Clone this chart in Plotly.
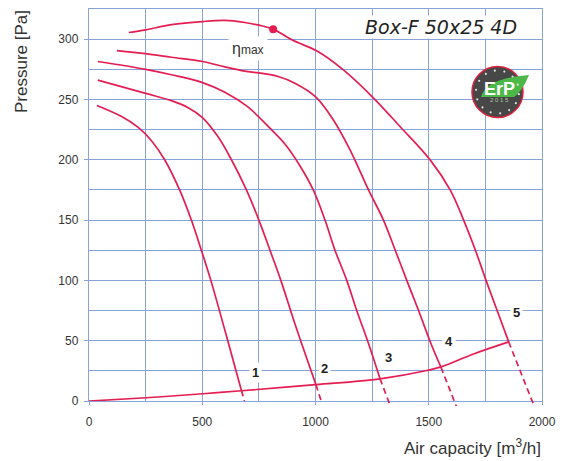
import plotly.graph_objects as go
import math

# ---------------- data ----------------
c1_x = [35, 142, 216, 275, 334, 400, 452, 496, 538, 600, 673]
c1_y = [245, 236, 227, 216, 200, 175, 150, 125, 100, 58.6, 8.7]
c1_dx = [673, 686]
c1_dy = [8.7, 0]

c2_x = [39, 250, 364, 440, 501, 570, 629, 695, 750, 799, 847, 909, 1002]
c2_y = [266, 255, 249, 243, 235, 219, 200, 175, 150, 125, 100, 64, 13.5]
c2_dx = [1002, 1027]
c2_dy = [13.5, -1]

c3_x = [39, 250, 364, 501, 600, 700, 800, 865, 931, 990, 1042, 1086, 1138, 1182, 1234, 1285]
c3_y = [281.5, 275, 270.5, 264, 256, 244, 226, 213, 195, 175, 150, 125, 100, 75, 47.7, 18.4]
c3_dx = [1285, 1330]
c3_dy = [18.4, -4]

c4_x = [123, 250, 364, 501, 600, 688, 750, 835, 909, 1002, 1079, 1153, 1234, 1300, 1352, 1403, 1455, 1510, 1554]
c4_y = [290.5, 288, 285, 281.5, 277, 273.5, 272, 269, 263.5, 252, 233, 208, 175, 150, 125, 100, 75, 47.5, 28]
c4_dx = [1554, 1623]
c4_dy = [28, -5]

c5_x = [176, 250, 364, 501, 600, 688, 750, 813, 900, 1003, 1123, 1253, 1374, 1507, 1595, 1654, 1706, 1753, 1802, 1853]
c5_y = [305.5, 307.7, 312, 314.6, 315.5, 313.8, 311.6, 308.3, 299, 290.5, 274.5, 251.8, 227.4, 199.7, 174.8, 150, 125, 100, 75, 49]
c5_dx = [1853, 1967]
c5_dy = [49, -5]

sys_x = [0, 253, 503, 673, 1001, 1285, 1492, 1558, 1698, 1853]
sys_y = [0, 2.7, 6, 8.5, 13.5, 18.4, 25.3, 28.5, 39, 49]

eta_x = [813]
eta_y = [308.3]

speed_labels = ["1", "2", "3", "4", "5"]
label_x = [736, 1039, 1321, 1590, 1887]
label_y = [24, 27, 36, 49, 73]

x_ticks = [0, 500, 1000, 1500, 2000]
y_ticks = [0, 50, 100, 150, 200, 250, 300]

# ---------------- style ----------------
RED = "#e41e52"
GRID = "#87a3d8"
FONT = "Liberation Sans, Arial"
W, H = 567, 461
ML, MR, MT, MB = 89, 25, 9, 55
PW = W - ML - MR
PH = H - MT - MB
EXT = 5  # px that dashed lines may extend below axis
y_dom0 = EXT / PH
scale_y = (PH - EXT) / 325.0


def px2paper(px, py):
    return (px - ML) / PW, (H - MB - py) / PH


fig = go.Figure()

solid = [(c1_x, c1_y), (c2_x, c2_y), (c3_x, c3_y), (c4_x, c4_y), (c5_x, c5_y)]
dashed = [(c1_dx, c1_dy), (c2_dx, c2_dy), (c3_dx, c3_dy), (c4_dx, c4_dy), (c5_dx, c5_dy)]

for xs, ys in solid:
    fig.add_trace(go.Scatter(x=xs, y=ys, mode="lines",
                             line=dict(color=RED, width=1.7, shape="spline", smoothing=1.0),
                             hoverinfo="skip", showlegend=False))
for xs, ys in dashed:
    fig.add_trace(go.Scatter(x=xs, y=ys, mode="lines", line=dict(color=RED, width=1.7, dash="6px,4px"),
                             xaxis="x2", yaxis="y2", hoverinfo="skip", showlegend=False))

fig.add_trace(go.Scatter(x=sys_x, y=sys_y, mode="lines",
                         line=dict(color=RED, width=1.7, shape="spline", smoothing=1.0),
                         hoverinfo="skip", showlegend=False))
fig.add_trace(go.Scatter(x=eta_x, y=eta_y, mode="markers", marker=dict(color=RED, size=8),
                         hoverinfo="skip", showlegend=False))

for t, lx, ly in zip(speed_labels, label_x, label_y):
    fig.add_annotation(x=lx, y=ly, xref="x", yref="y", text="<b>%s</b>" % t, showarrow=False,
                       font=dict(family=FONT, size=13, color="#222"),
                       bgcolor="white", borderpad=2, xanchor="center", yanchor="middle")

fig.add_annotation(x=703, y=292, xref="x", yref="y",
                   text="η<span style='font-size:12px'>max</span>", showarrow=False,
                   font=dict(family=FONT, size=16, color="#333"),
                   bgcolor="white", borderpad=3, xanchor="center", yanchor="middle")

# title
tx, ty = px2paper(441, 27)
fig.add_annotation(x=tx, y=ty, xref="paper", yref="paper", text="<i>Box-F 50x25 4D</i>", showarrow=False,
                   font=dict(family="DejaVu Sans", size=19, color="#222"), bgcolor="white", borderpad=0,
                   xanchor="center", yanchor="middle")

# axis titles
ax, ay = px2paper(22, 62)
fig.add_annotation(x=ax, y=ay, xref="paper", yref="paper", text="Pressure [Pa]", textangle=-90,
                   showarrow=False, font=dict(family=FONT, size=17, color="#333"),
                   xanchor="center", yanchor="middle")
bx, by = px2paper(543, 447)
fig.add_annotation(x=bx, y=by, xref="paper", yref="paper", text="Air capacity [m<sup>3</sup>/h]",
                   showarrow=False, font=dict(family=FONT, size=17, color="#333"),
                   xanchor="right", yanchor="middle")

# ErP logo
cx, cy, r = 497.5, 92, 25.5
x0, y0 = px2paper(cx - r, cy + r)
x1, y1 = px2paper(cx + r, cy - r)
fig.add_shape(type="circle", xref="paper", yref="paper", x0=x0, y0=y0, x1=x1, y1=y1,
              fillcolor="#474747", line=dict(color="#e0203a", width=1.5), layer="above")
leaf_pts = [(481, 97), (486, 78), (529, 75), (522, 92), (514, 97)]
p = [px2paper(a, b) for a, b in leaf_pts]
path = "M %f,%f Q %f,%f %f,%f Q %f,%f %f,%f L %f,%f Z" % (
    p[0][0], p[0][1], p[1][0], p[1][1], p[2][0], p[2][1], p[3][0], p[3][1], p[4][0], p[4][1], p[0][0], p[0][1])
fig.add_shape(type="path", xref="paper", yref="paper", path=path, fillcolor="#4cb848",
              line=dict(color="#4cb848", width=0), layer="above")
for k in range(14):
    a = 2 * math.pi * k / 14 + 0.1
    dx, dy = cx + 21.5 * math.cos(a), cy + 21.5 * math.sin(a)
    u0, v0 = px2paper(dx - 1.1, dy + 1.1)
    u1, v1 = px2paper(dx + 1.1, dy - 1.1)
    fig.add_shape(type="circle", xref="paper", yref="paper", x0=u0, y0=v0, x1=u1, y1=v1,
                  fillcolor="#dddddd", line=dict(width=0), layer="above")
ex, ey = px2paper(499.5, 89)
fig.add_annotation(x=ex, y=ey, xref="paper", yref="paper", text="<b>ErP</b>", showarrow=False,
                   font=dict(family=FONT, size=18, color="white"), xanchor="center", yanchor="middle")
fx, fy = px2paper(499, 99.5)
fig.add_annotation(x=fx, y=fy, xref="paper", yref="paper", text="2 0 1 5", showarrow=False,
                   font=dict(family=FONT, size=6, color="#a8c8a0"), xanchor="center", yanchor="middle")

fig.update_layout(
    width=W, height=H,
    margin=dict(l=ML, r=MR, t=MT, b=MB, pad=0),
    paper_bgcolor="white", plot_bgcolor="rgba(0,0,0,0)",
    xaxis=dict(domain=[0, 1], range=[0, 2000], tickvals=x_ticks, ticktext=[str(v) for v in x_ticks],
               showgrid=True, gridcolor=GRID, gridwidth=1.4,
               minor=dict(dtick=250, tick0=0, showgrid=True, gridcolor=GRID, gridwidth=1.4),
               showline=True, linecolor=GRID, linewidth=1.4, mirror=True,
               ticks="outside", ticklen=3, tickcolor=GRID, tickwidth=1.4,
               tickfont=dict(family=FONT, size=12, color="#333"),
               ticklabelstandoff=6, zeroline=False, anchor="y", fixedrange=True),
    yaxis=dict(domain=[y_dom0, 1], range=[0, 325], tickvals=y_ticks, ticktext=[str(v) for v in y_ticks],
               showgrid=True, gridcolor=GRID, gridwidth=1.4,
               minor=dict(dtick=25, tick0=0, showgrid=True, gridcolor=GRID, gridwidth=1.4),
               showline=True, linecolor=GRID, linewidth=1.4, mirror=True,
               ticks="outside", ticklen=4, tickcolor=GRID, tickwidth=1.4,
               tickfont=dict(family=FONT, size=12, color="#333"),
               ticklabelstandoff=3, zeroline=False, anchor="x", fixedrange=True),
    xaxis2=dict(domain=[0, 1], range=[0, 2000], visible=False, anchor="y2", fixedrange=True),
    yaxis2=dict(domain=[0, 1], range=[-EXT / scale_y, 325], visible=False, anchor="x2", fixedrange=True),
)

fig.write_html("out.html")
